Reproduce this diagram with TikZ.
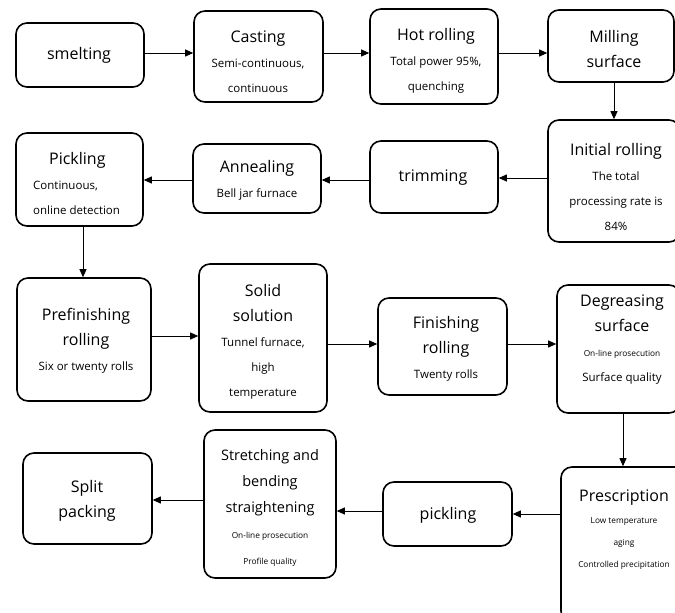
\documentclass[tikz,border=0pt]{standalone}
\usepackage{fontspec}
\setmainfont{Open Sans}
\usetikzlibrary{arrows.meta}
\newcommand\hd{\fontsize{16}{25}\selectfont}
\newcommand\sm{\fontsize{11.5}{25}\selectfont}
\newcommand\tn{\fontsize{8.3}{25}\selectfont}
\tikzset{
  box/.style={draw, line width=1.6pt, rounded corners=11pt, inner sep=0pt},
  txt/.style={inner sep=0pt, align=center, font=\hd},
  arr/.style={-{Triangle[length=8pt,width=7pt]}, line width=0.9pt}
}
\begin{document}
\begin{tikzpicture}[x=1pt,y=-1pt]
\useasboundingbox (0,0) rectangle (675,613);
\clip (0,0) rectangle (675,613);
% boxes
\node[box, minimum width=128pt, minimum height=64pt] (smelt) at (80,55) {};
\node[box, minimum width=129pt, minimum height=91pt] (cast) at (258.5,56.5) {};
\node[box, minimum width=128pt, minimum height=95pt] (hot) at (434,56.5) {};
\node[box, minimum width=126pt, minimum height=72pt] (mill) at (611,46) {};
\node[box, minimum width=132pt, minimum height=122pt] (init) at (614,181) {};
\node[box, minimum width=128pt, minimum height=72pt] (trim) at (434,177) {};
\node[box, minimum width=128pt, minimum height=69pt] (anneal) at (257,178.5) {};
\node[box, minimum width=127pt, minimum height=93pt] (pickA) at (79.5,179.5) {};
\node[box, minimum width=134pt, minimum height=123pt] (prefin) at (84,339.5) {};
\node[box, minimum width=128pt, minimum height=148pt] (solid) at (263,338) {};
\node[box, minimum width=129pt, minimum height=97pt] (finish) at (442.5,346.5) {};
\node[box, minimum width=123pt, minimum height=128pt] (degr) at (618.5,349) {};
\node[box, minimum width=129pt, minimum height=155pt] (presc) at (625.5,544.5) {};
\node[box, minimum width=129pt, minimum height=64pt] (pickB) at (447.5,514) {};
\node[box, minimum width=132pt, minimum height=148pt] (stretch) at (270,504) {};
\node[box, minimum width=129pt, minimum height=91pt] (split) at (87.5,498.5) {};
% texts
\node[txt] (smelt-t) at (79,55) {smelting};
\node[txt] (cast-t) at (258,61.5) {Casting\\{\sm Semi-continuous,}\\{\sm continuous}};
\node[txt] (hot-t) at (436,61) {Hot rolling\\{\sm Total power 95\%,}\\{\sm quenching}};
\node[txt] (mill-t) at (614,49) {Milling\\surface};
\node[txt] (init-t) at (616,187) {Initial rolling\\{\sm The total}\\{\sm processing rate is}\\{\sm 84\%}};
\node[txt] (trim-t) at (433,178) {trimming};
\node[txt] (anneal-t) at (257,180.5) {Annealing\\{\sm Bell jar furnace}};
\node[txt, align=left, anchor=west] (pickA-t) at (33,183) {\hspace*{16pt}Pickling\\{\sm Continuous,}\\{\sm online detection}};
\node[txt] (prefin-t) at (86,341) {Prefinishing\\rolling\\{\sm Six or twenty rolls}};
\node[txt] (solid-t) at (263,342) {Solid\\solution\\{\sm Tunnel furnace,}\\{\sm high}\\{\sm temperature}};
\node[txt] (finish-t) at (446,349) {Finishing\\rolling\\{\sm Twenty rolls}};
\node[txt] (degr-t) at (622,339.5) {Degreasing\\surface\\{\tn On-line prosecution}\\{\sm Surface quality}};
\node[txt, font=\fontsize{16}{22}\selectfont] (presc-t) at (624,530) {Prescription\\{\tn Low temperature}\\{\tn aging}\\{\tn Controlled precipitation}};
\node[txt] (pickB-t) at (448,515) {pickling};
\node[txt, font=\fontsize{14.5}{26}\selectfont] (stretch-t) at (270,508) {Stretching and\\bending\\straightening\\{\tn On-line prosecution}\\{\tn Profile quality}};
\node[txt] (split-t) at (87,500.5) {Split\\packing};
% arrows
\draw[arr] (smelt.east |- 0,53) -- (cast.west |- 0,53);
\draw[arr] (cast.east |- 0,53) -- (hot.west |- 0,53);
\draw[arr] (hot.east |- 0,53) -- (mill.west |- 0,53);
\draw[arr] (mill.south -| 614,0) -- (init.north -| 614,0);
\draw[arr] (init.west |- 0,178) -- (trim.east |- 0,178);
\draw[arr] (trim.west |- 0,180) -- (anneal.east |- 0,180);
\draw[arr] (anneal.west |- 0,180) -- (pickA.east |- 0,180);
\draw[arr] (pickA.south -| 83,0) -- (prefin.north -| 83,0);
\draw[arr] (prefin.east |- 0,336) -- (solid.west |- 0,336);
\draw[arr] (solid.east |- 0,344) -- (finish.west |- 0,344);
\draw[arr] (finish.east |- 0,344) -- (degr.west |- 0,344);
\draw[arr] (degr.south -| 623,0) -- (presc.north -| 623,0);
\draw[arr] (presc.west |- 0,514) -- (pickB.east |- 0,514);
\draw[arr] (pickB.west |- 0,511) -- (stretch.east |- 0,511);
\draw[arr] (stretch.west |- 0,500) -- (split.east |- 0,500);
\end{tikzpicture}
\end{document}
